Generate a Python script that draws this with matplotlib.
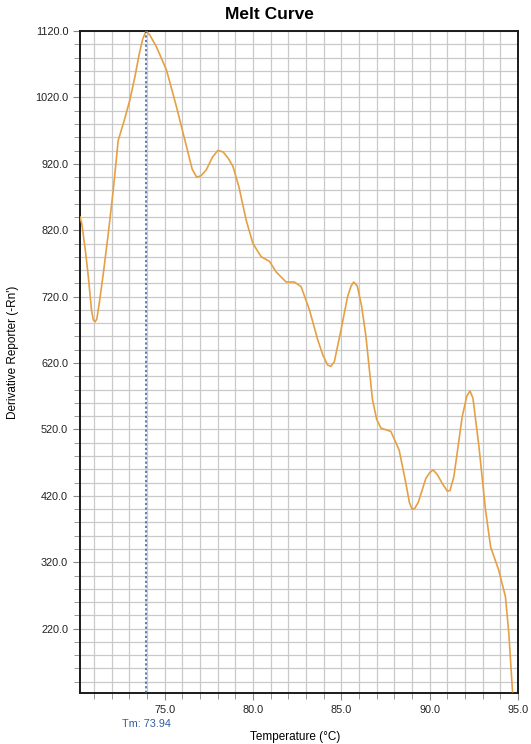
"""Melt curve: derivative reporter vs temperature with Tm marker."""

import numpy as np
import matplotlib.pyplot as plt
from matplotlib.ticker import MultipleLocator

plt.rcParams["font.family"] = ["Liberation Sans", "DejaVu Sans"]

# ------------------------------
# Data
# ------------------------------

temp = [70.2, 70.30, 70.50, 70.67, 70.85, 70.95, 71.05, 71.15, 71.30, 71.52, 71.80,
        72.08, 72.36, 72.70, 73.02, 73.30, 73.55, 73.75, 73.94, 74.15, 74.53,
        75.10, 75.66, 76.23, 76.55, 76.80, 77.05, 77.35, 77.70, 78.00, 78.30,
        78.60, 78.86, 79.20, 79.61, 79.99, 80.46, 80.93, 81.31, 81.87, 82.34,
        82.72, 83.19, 83.66, 83.95, 84.22, 84.40, 84.60, 84.98, 85.35, 85.55,
        85.70, 85.90, 86.15, 86.39, 86.76, 87.00, 87.24, 87.80, 88.27, 88.65,
        88.85, 89.00, 89.15, 89.35, 89.78, 90.00, 90.20, 90.43, 90.75, 91.00,
        91.15, 91.37, 91.84, 92.10, 92.28, 92.45, 92.79, 93.16, 93.45, 93.91,
        94.29, 94.48, 94.69]
deriv = [840, 830, 790, 750, 700, 685, 682, 686, 712, 755, 815,
         880, 955, 985, 1016, 1050, 1085, 1108, 1120, 1114, 1096,
         1061, 1006, 946, 912, 900, 902, 911, 930, 940, 938,
         928, 916, 885, 835, 800, 780, 773, 757, 742, 742,
         735, 700, 655, 632, 617, 615, 622, 670, 720, 736,
         742, 736, 705, 660, 565, 535, 522, 517, 489, 439,
         410, 400, 401, 410, 446, 455, 459, 452, 437, 427,
         428, 449, 539, 570, 578, 567, 494, 399, 343, 308,
         268, 213, 125]

tm = 73.94

xticks = [75.0, 80.0, 85.0, 90.0, 95.0]
yticks = [220.0, 320.0, 420.0, 520.0, 620.0, 720.0, 820.0, 920.0, 1020.0, 1120.0]

# ------------------------------
# Plot
# ------------------------------

fig = plt.figure(figsize=(5.31, 7.44), dpi=100)
ax = fig.add_axes([0.1507, 0.0685, 0.8248, 0.8898])

ax.plot(temp, deriv, color="#E6A044", linewidth=1.2, zorder=3)
ax.axvline(tm, color="#2F5E9E", linestyle=(0, (1.5, 1.5)), linewidth=1.1, zorder=4)

ax.set_xlim(70.2, 95.0)
ax.set_ylim(123, 1120)

ax.set_xticks(xticks)
ax.set_xticklabels([f"{t:.1f}" for t in xticks])
ax.set_yticks(yticks)
ax.set_yticklabels([f"{t:.1f}" for t in yticks])
ax.xaxis.set_minor_locator(MultipleLocator(1.0))
ax.yaxis.set_minor_locator(MultipleLocator(20.0))

ax.grid(True, which="both", color="#C9C9C9", linewidth=0.9, zorder=0)
ax.tick_params(which="both", direction="out", colors="#888888",
               labelcolor="#222222", labelsize=7.8)
ax.tick_params(which="major", length=5)
ax.tick_params(which="minor", length=4)

for s in ax.spines.values():
    s.set_color("#1a1a1a")
    s.set_linewidth(1.4)

ax.text(tm, -0.039, f"Tm: {tm:.2f}", transform=ax.get_xaxis_transform(),
        ha="center", va="top", color="#2F5E9E", fontsize=7.8)

fig.text(0.508, 0.990, "Melt Curve", ha="center", va="top",
         fontsize=12.5, fontweight="bold")
fig.text(0.555, 0.002, "Temperature (°C)", ha="center", va="bottom", fontsize=8.5)
fig.text(0.024, 0.527, "Derivative Reporter (-Rn')", ha="center", va="center",
         rotation=90, fontsize=8.5)

fig.savefig("out.png", dpi=100)
